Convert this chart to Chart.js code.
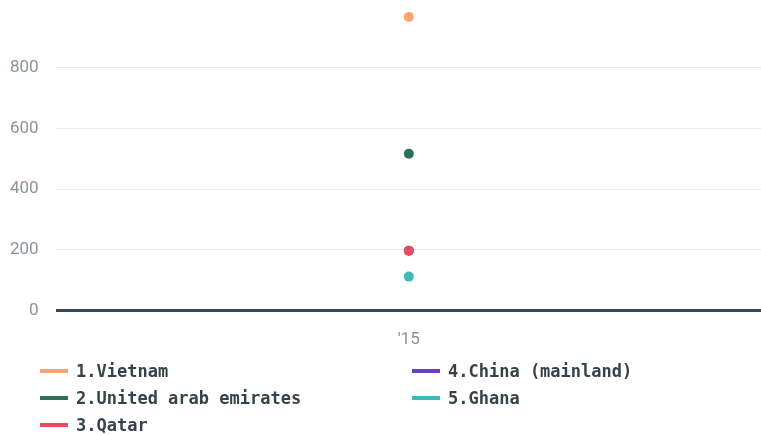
<!DOCTYPE html>
<html>
<head>
<meta charset="utf-8">
<script src="https://cdn.jsdelivr.net/npm/chart.js@4/dist/chart.umd.min.js"></script>
<style>
  html, body { margin: 0; padding: 0; background: #ffffff; }
  #wrap { position: relative; width: 761px; height: 435px; overflow: hidden; }
  #chartBox { position: absolute; left: -7px; top: -20px; width: 774px; height: 389px; }
  #legend { position: absolute; left: 40px; top: 359px; width: 720px;
    font-family: "DejaVu Sans Mono", monospace; font-weight: bold; font-size: 17px; color: #36434b; }
  .item { position: absolute; height: 24px; line-height: 24px; white-space: nowrap; }
  .sw { display: inline-block; width: 28px; height: 4px; vertical-align: middle; margin-right: 8px; position: relative; top: -1px; }
</style>
</head>
<body>
<div id="wrap">
  <div id="chartBox"><canvas id="c"></canvas></div>
  <div id="legend"></div>
</div>
<script>
const categories = ["'15"];
const seriesNames = ["1.Vietnam", "2.United arab emirates", "3.Qatar", "4.China (mainland)", "5.Ghana"];
const vietnam = [968];
const uae = [517];
const qatar = [197];
const china = [197];
const ghana = [112];
const yTicks = [0, 200, 400, 600, 800];
const colors = ["#ffa46f", "#2b6f57", "#e84a62", "#6a3ec8", "#3dbab6"];

const seriesValues = [vietnam, uae, qatar, china, ghana];

const datasets = seriesNames.map((name, i) => ({
  label: name,
  data: seriesValues[i],
  showLine: false,
  borderColor: colors[i],
  backgroundColor: colors[i],
  pointBackgroundColor: colors[i],
  pointBorderColor: colors[i],
  pointRadius: 5,
  pointBorderWidth: 0,
  pointHoverRadius: 5
}));

new Chart(document.getElementById('c'), {
  type: 'line',
  data: { labels: categories, datasets },
  options: {
    responsive: true,
    maintainAspectRatio: false,
    animation: false,
    layout: { padding: { top: 0, right: 0, left: 0, bottom: 0 } },
    plugins: { legend: { display: false }, tooltip: { enabled: false } },
    scales: {
      x: {
        offset: true,
        grid: { display: false, drawTicks: false },
        border: { display: false },
        ticks: { color: '#8a9399', font: { family: 'Roboto', size: 17 }, padding: 19 }
      },
      y: {
        min: 0, max: 1000,
        afterBuildTicks: (axis) => { axis.ticks = yTicks.map(v => ({ value: v })).concat([{ value: 1000 }]); },
        grid: {
          color: (ctx) => ctx.tick && ctx.tick.value === 0 ? '#37474f' : '#e9e9e9',
          lineWidth: (ctx) => ctx.tick && ctx.tick.value === 0 ? 3 : 1,
          drawTicks: false
        },
        border: { display: false },
        ticks: {
          color: '#8a9399', font: { family: 'Roboto', size: 17 }, padding: 17,
          callback: (v) => yTicks.includes(v) ? String(v) : null
        }
      }
    }
  }
});

const legend = document.getElementById('legend');
const pos = [[0,0],[0,27],[0,54],[372,0],[372,27]];
seriesNames.forEach((name, i) => {
  const d = document.createElement('div');
  d.className = 'item';
  d.style.left = pos[i][0] + 'px';
  d.style.top = pos[i][1] + 'px';
  d.innerHTML = '<span class="sw" style="background:' + colors[i] + '"></span>';
  d.appendChild(document.createTextNode(name));
  legend.appendChild(d);
});
</script>
</body>
</html>
